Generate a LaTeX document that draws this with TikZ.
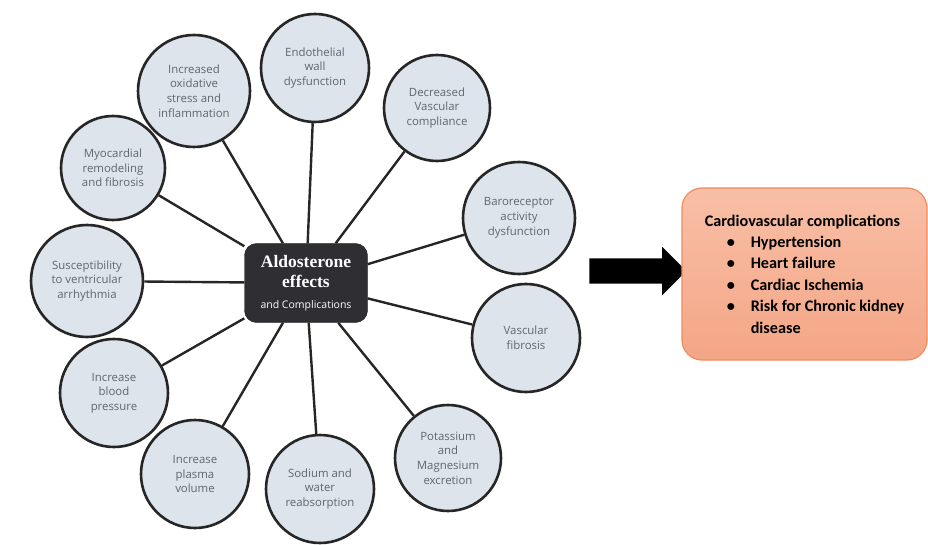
\documentclass[tikz,border=0pt]{standalone}
\usepackage{fontspec}
\setmainfont{Open Sans}
\newfontfamily\hubfont{Liberation Serif}
\newfontfamily\cvfont{Carlito}
\usepackage{tikz}
\usetikzlibrary{positioning,shapes.arrows}
\definecolor{bubfill}{HTML}{DDE4EB}
\definecolor{bubtext}{HTML}{62666B}
\definecolor{hubfill}{HTML}{2E2E33}
\definecolor{cvtop}{HTML}{F8BFA6}
\definecolor{cvbot}{HTML}{F4A686}
\definecolor{cvline}{HTML}{EE8C62}
\newcommand{\cvitem}{\makebox[46pt][l]{\hspace{22pt}\textbullet}}

\begin{document}
\begin{tikzpicture}[x=1pt, y=-1pt,
  bub/.style = {circle, draw=black!85, line width=2.6pt, fill=bubfill,
                minimum size=108pt, inner sep=0pt, align=center, text=bubtext,
                font=\fontsize{11.4}{14.7}\selectfont},
  hub/.style = {rounded corners=12pt, fill=hubfill, draw=black!90,
                minimum width=123pt, minimum height=79pt, inner sep=2pt,
                text=white, align=center},
  cv/.style  = {rounded corners=20pt, top color=cvtop, bottom color=cvbot,
                draw=cvline, line width=1.2pt, minimum width=245pt,
                minimum height=172pt, align=left,
                font=\cvfont\bfseries\fontsize{16.2}{21.4}\selectfont},
  blk/.style = {single arrow, fill=black, inner xsep=0pt, inner ysep=12.5pt,
                minimum height=97pt, single arrow head extend=11.5pt,
                single arrow head indent=0pt},
  e/.style   = {draw=black!85, line width=2.4pt}]
\useasboundingbox (0,0) rectangle (928,545);

% --- hub -------------------------------------------------------------
\node[hub, font=\hubfont\bfseries\fontsize{17.5}{20}\selectfont] (A) at (306,283)
  {Aldosterone\\effects\\[1pt]
   \normalfont\fontsize{10.5}{12}\selectfont and Complications};

% --- effects ---------------------------------------------------------
\node[bub] (endo)   at (315,68)  {Endothelial\\wall\\dysfunction};
\node[bub, minimum size=112pt] (oxid) at (194,91)
      {Increased\\oxidative\\stress and\\inflammation};
\node[bub, minimum size=104pt] (myo) at (113,168)
      {Myocardial\\remodeling\\and fibrosis};
\node[bub, minimum size=112pt] (susc) at (87,281)
      {Susceptibility\\to ventricular\\arrhythmia};
\node[bub] (bp)     at (114,393) {Increase\\blood\\pressure};
\node[bub] (plasma) at (195,474) {Increase\\plasma\\volume};
\node[bub] (sodium) at (320,489) {Sodium and\\water\\reabsorption};
\node[bub, minimum size=106pt] (potas) at (448,458)
      {Potassium\\and\\Magnesium\\excretion};
\node[bub] (vfib)   at (526,338) {Vascular\\fibrosis};
\node[bub, minimum size=112pt] (baro) at (519,218)
      {Baroreceptor\\activity\\dysfunction};
\node[bub, minimum size=106pt] (decr) at (437,108)
      {Decreased\\Vascular\\compliance};

% --- spokes ----------------------------------------------------------
\draw[e] (A)--(endo);   \draw[e] (A)--(oxid);   \draw[e] (A)--(myo);
\draw[e] (A)--(susc);   \draw[e] (A)--(bp);     \draw[e] (A)--(plasma);
\draw[e] (A)--(sodium); \draw[e] (A)--(potas);  \draw[e] (A)--(vfib);
\draw[e] (A)--(baro);   \draw[e] (A)--(decr);

% --- outcome ---------------------------------------------------------
\node[blk] (go) at (631.5,271) {};
\node[cv]  (cv) at (804.5,274)
  {Cardiovascular complications\\
   \cvitem Hypertension\\
   \cvitem Heart failure\\
   \cvitem Cardiac Ischemia\\
   \cvitem Risk for Chronic kidney\\
   \hspace*{46pt}disease};
\end{tikzpicture}
\end{document}
